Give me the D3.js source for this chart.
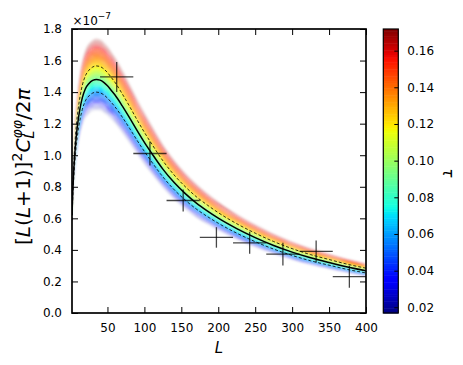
<!DOCTYPE html>
<html><head><meta charset="utf-8">
<script src="https://cdn.jsdelivr.net/npm/d3@7"></script>
<style>body{margin:0;background:#fff} svg{display:block} text{font-family:"DejaVu Sans",sans-serif;fill:#000}</style>
</head><body><svg id="c" width="463" height="365"></svg>
<script>
// ---- data ----
const multipoles = [2,3,4,6,8,10,13,16,20,25,30,35,40,45,50,55,60,70,80,90,100,110,125,140,155,170,185,200,225,250,275,300,325,350,375,400];
const meanCurve  = [0.62,0.76,0.87,1.02,1.13,1.21,1.30,1.365,1.42,1.455,1.474,1.48,1.476,1.462,1.44,1.412,1.383,1.313,1.237,1.158,1.082,1.012,0.912,0.828,0.758,0.698,0.647,0.601,0.535,0.478,0.428,0.386,0.350,0.320,0.292,0.268];
const upperCurve = [0.656,0.804,0.920,1.079,1.196,1.280,1.375,1.444,1.502,1.539,1.559,1.566,1.562,1.547,1.524,1.494,1.463,1.389,1.309,1.225,1.145,1.071,0.965,0.876,0.802,0.738,0.685,0.636,0.566,0.506,0.453,0.408,0.370,0.339,0.309,0.284];
const lowerCurve = [0.587,0.719,0.823,0.965,1.069,1.145,1.230,1.291,1.343,1.376,1.394,1.400,1.396,1.383,1.362,1.336,1.308,1.242,1.170,1.095,1.024,0.957,0.863,0.783,0.717,0.660,0.612,0.569,0.506,0.452,0.405,0.365,0.331,0.303,0.276,0.254];
const binCenters   = [62.5,107.5,152.5,197.5,242.5,287.5,332.5,377.5];
const binHalfWidth = [22.5,22.5,22.5,22.5,22.5,22.5,22.5,22.5];
const binValues    = [1.496,1.011,0.713,0.479,0.445,0.373,0.390,0.230];
const binErrors    = [0.095,0.076,0.070,0.065,0.070,0.072,0.070,0.070];
const tauStops     = [0.017,0.06,0.09,0.12,0.172];
const tauPeakAmp   = [1.282,1.40,1.48,1.565,1.74];
const tauDensityStops = [0.017,0.03,0.045,0.06,0.09,0.12,0.14,0.155,0.172];
const tauDensity      = [0.05,0.25,0.6,0.9,1,0.95,0.78,0.5,0.12];
const xTicks  = [50,100,150,200,250,300,350,400];
const yTicks  = [0,0.2,0.4,0.6,0.8,1.0,1.2,1.4,1.6,1.8];
const cbTicks = [0.02,0.04,0.06,0.08,0.10,0.12,0.14,0.16];
const cbDomain = [0.0169,0.1718];

// ---- layout ----
const svg = d3.select("#c");
const L = 72, R = 366, T = 29, B = 313;
const x = d3.scaleLinear([2,400],[L,R]);
const y = d3.scaleLinear([0,1.8],[B,T]);

function jet(v){
  v = Math.max(0, Math.min(1, v));
  const seg = pts => { for (let i=1;i<pts.length;i++){ if (v<=pts[i][0]){ const [x0,y0]=pts[i-1],[x1,y1]=pts[i]; return y0+(y1-y0)*(v-x0)/(x1-x0);} } return pts[pts.length-1][1]; };
  const r = seg([[0,0],[0.35,0],[0.66,1],[0.89,1],[1,0.5]]);
  const g = seg([[0,0],[0.125,0],[0.375,1],[0.64,1],[0.91,0],[1,0]]);
  const b = seg([[0,0.5],[0.11,1],[0.34,1],[0.65,0],[1,0]]);
  return d3.rgb(r*255,g*255,b*255).toString();
}
const norm = d3.scaleLinear(cbDomain,[0,1]);
const amp = d3.scaleLinear(tauStops, tauPeakAmp);
const dens = d3.scaleLinear(tauDensityStops, tauDensity);
const refAmp = amp(0.09);

const defs = svg.append("defs");
defs.append("clipPath").attr("id","clip").append("rect").attr("x",L).attr("y",T).attr("width",R-L).attr("height",B-T);
defs.append("filter").attr("id","blur").attr("x","-5%").attr("y","-5%").attr("width","110%").attr("height","110%")
  .append("feGaussianBlur").attr("stdDeviation",1.0);

const plot = svg.append("g").attr("clip-path","url(#clip)");
const band = plot.append("g").attr("filter","url(#blur)");
const pts = multipoles.map((l,i)=>({l, m:meanCurve[i], u:upperCurve[i], d:lowerCurve[i]}));
const step = 0.0012;
d3.range(cbDomain[0], cbDomain[1], step).forEach(t=>{
  const f1 = amp(t)/refAmp, f2 = amp(Math.min(t+step*1.15, cbDomain[1]))/refAmp, mid = t+step/2;
  const area = d3.area().x(d=>x(d.l)).y0(d=>y(d.m*f1)).y1(d=>y(d.m*f2)).curve(d3.curveMonotoneX);
  band.append("path").attr("d", area(pts)).attr("fill", jet(norm(mid))).attr("fill-opacity", dens(mid));
});

const line = key => d3.line().x(d=>x(d.l)).y(d=>y(d[key])).curve(d3.curveMonotoneX);
plot.append("path").attr("d", line("u")(pts)).attr("fill","none").attr("stroke","#000").attr("stroke-width",0.8).attr("stroke-dasharray","3,2");
plot.append("path").attr("d", line("d")(pts)).attr("fill","none").attr("stroke","#000").attr("stroke-width",0.8).attr("stroke-dasharray","3,2");
plot.append("path").attr("d", line("m")(pts)).attr("fill","none").attr("stroke","#000").attr("stroke-width",1.5);

// data crosses
const cross = svg.append("g").attr("stroke","#000").attr("stroke-opacity",0.72).attr("stroke-width",1.3);
binCenters.forEach((c,i)=>{
  cross.append("line").attr("x1",x(c-binHalfWidth[i])).attr("x2",x(c+binHalfWidth[i])).attr("y1",y(binValues[i])).attr("y2",y(binValues[i]));
  cross.append("line").attr("x1",x(c)).attr("x2",x(c)).attr("y1",y(binValues[i]-binErrors[i])).attr("y2",y(binValues[i]+binErrors[i]));
});

// axes (inward ticks on all sides)
const fmt = d3.format(".1f");
const ax = (g)=>{ g.select(".domain").remove(); g.selectAll("line").attr("stroke","#000").attr("stroke-width",1); g.selectAll("text").attr("font-size",12).attr("font-family","DejaVu Sans").attr("fill","#000"); };
svg.append("g").attr("transform",`translate(0,${B})`).call(d3.axisBottom(x).tickValues(xTicks).tickSize(-6).tickPadding(10).tickFormat(d3.format("d"))).call(ax);
svg.append("g").attr("transform",`translate(0,${T})`).call(d3.axisTop(x).tickValues(xTicks).tickSize(-6).tickFormat("")).call(ax);
svg.append("g").attr("transform",`translate(${L},0)`).call(d3.axisLeft(y).tickValues(yTicks).tickSize(-6).tickPadding(10).tickFormat(fmt)).call(ax);
svg.append("g").attr("transform",`translate(${R},0)`).call(d3.axisRight(y).tickValues(yTicks).tickSize(-6).tickFormat("")).call(ax);
svg.append("rect").attr("x",L).attr("y",T).attr("width",R-L).attr("height",B-T).attr("fill","none").attr("stroke","#000").attr("stroke-width",1.7);

// multiplier
const mt = svg.append("text").attr("x",72.5).attr("y",25).attr("font-size",12);
mt.append("tspan").text("×10");
mt.append("tspan").attr("font-size",9).attr("dy",-6).text("−7");

// x label
svg.append("text").attr("x",(L+R)/2).attr("y",353).attr("text-anchor","middle").attr("font-size",15).attr("font-style","italic").text("L");

// y label (mathtext-like layout)
const yLabelSize = 15;
const yl = svg.append("g").attr("transform","translate(30,166) rotate(-90)");
const inner = yl.append("g");
{
  const size = yLabelSize;
  const pieces = [
    {t:"["},{t:"L",it:1},{t:"("},{t:"L",it:1},{t:" + "},{t:"1)]"},
    {t:"2",sup:1},{t:"C",it:1},{t:"φφ",it:1,sup:1,mark:1},{t:"L",it:1,sub:1,back:1},{t:"/2"},{t:"π",it:1}
  ];
  let cx = 0, markX = 0, afterMark = 0;
  pieces.forEach(p=>{
    const fs = (p.sup||p.sub) ? size*0.7 : size;
    const px = p.back ? markX : cx;
    const tx = inner.append("text").attr("x",px).attr("y", p.sup ? -size*0.42 : p.sub ? size*0.22 : 0)
      .attr("font-size",fs).attr("font-style",p.it?"italic":"normal").text(p.t);
    const w = tx.node().getComputedTextLength();
    if (p.mark){ markX = px; afterMark = px+w; cx = px+w; }
    else if (p.back){ cx = Math.max(afterMark, px+w); }
    else cx = px + w;
  });
  const bb = inner.node().getBBox();
  const s = 158 / bb.width;
  inner.attr("transform",`scale(${s}) translate(${-bb.x - bb.width/2},0)`);
}

// colorbar
const cx0 = 383.3, cw = 15;
const cy = d3.scaleLinear(cbDomain,[B,T]);
const nCb = 120;
d3.range(nCb).forEach(i=>{
  const t0 = cbDomain[0] + (cbDomain[1]-cbDomain[0])*i/nCb, t1 = cbDomain[0] + (cbDomain[1]-cbDomain[0])*(i+1)/nCb;
  svg.append("rect").attr("x",cx0).attr("width",cw).attr("y",cy(t1)).attr("height",cy(t0)-cy(t1)+0.5).attr("fill",jet(norm((t0+t1)/2)));
});
svg.append("rect").attr("x",cx0).attr("y",T).attr("width",cw).attr("height",B-T).attr("fill","none").attr("stroke","#000").attr("stroke-width",1.2);
svg.append("g").attr("transform",`translate(${cx0+cw},0)`).call(d3.axisRight(cy).tickValues(cbTicks).tickSize(-4).tickPadding(9).tickFormat(d3.format(".2f"))).call(ax);
svg.append("text").attr("transform","translate(443,173) rotate(90)").attr("text-anchor","middle").attr("font-size",15).attr("font-style","italic").text("τ");
</script></body></html>
